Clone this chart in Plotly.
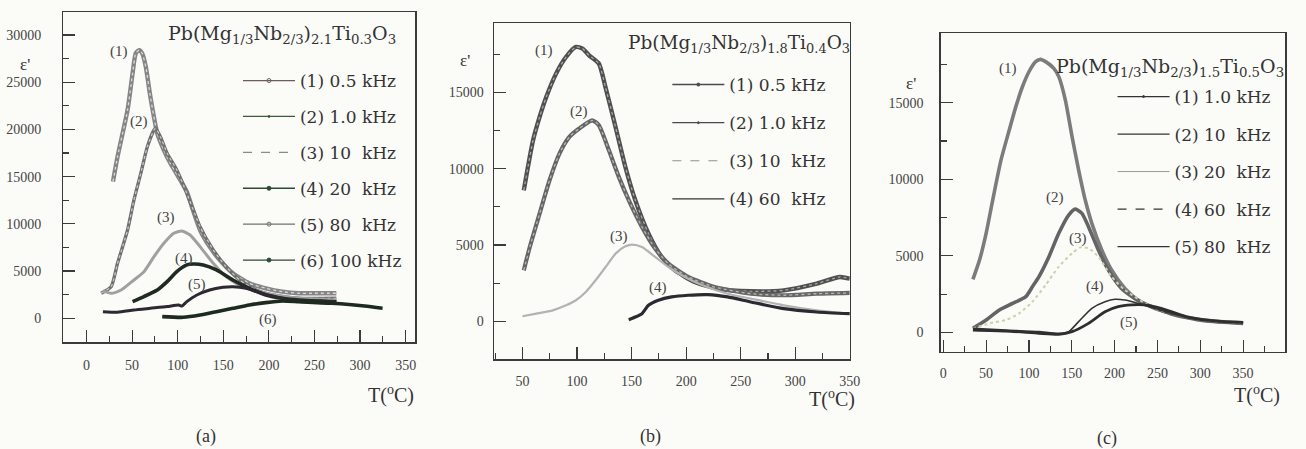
import plotly.graph_objects as go

W, H = 1306, 449
FONT = "Liberation Serif"
LFONT = "DejaVu Serif"
INK = "#3a3a3a"

# ---------------- Panel (a): Pb(Mg1/3Nb2/3)2.1Ti0.3O3 ----------------
a_names = ["(1) 0.5 kHz", "(2) 1.0 kHz", "(3) 10\u00a0 kHz", "(4) 20\u00a0 kHz", "(5) 80\u00a0 kHz", "(6) 100 kHz"]
a1_x = [29, 34, 45, 50.5, 54, 57.7, 61, 65, 70, 77.6, 84.8, 92, 102.8, 110, 115.5, 124.5, 135, 146, 160.5, 178.6, 196.6, 214.7, 232.7, 247, 274]
a1_y = [14470, 17100, 22060, 25940, 28060, 28400, 28060, 26640, 23470, 19590, 17820, 16410, 14650, 13410, 11820, 9350, 7590, 6180, 4760, 3700, 3180, 2820, 2650, 2650, 2650]
a2_x = [16, 27, 34, 45, 52, 59.5, 66.7, 74, 75.8, 81, 88.4, 99, 110, 124.5, 139, 153, 168, 186, 204, 232.7, 274]
a2_y = [2650, 3350, 5820, 9350, 12530, 15350, 18170, 19940, 20110, 19230, 17470, 15700, 13230, 9700, 7230, 5470, 4060, 3000, 2470, 2120, 2120]
a3_x = [18, 27, 38, 52, 63, 74, 84.8, 95.6, 104.6, 113.6, 124.5, 139, 153, 171, 196.6, 233, 274]
a3_y = [2900, 2650, 3000, 4060, 4940, 6530, 7940, 9000, 9250, 8820, 7590, 5820, 4410, 3350, 2650, 2120, 1940]
a4_x = [50.5, 63, 77.6, 88.4, 99, 110, 117, 128, 142.5, 160.5, 178.6, 196.6, 214.7, 232.7, 274]
a4_y = [1760, 2300, 3000, 3880, 4940, 5650, 5750, 5650, 5120, 4060, 3180, 2470, 2120, 1940, 1760]
a5_x = [18, 34, 52, 70, 88.4, 101, 104.6, 110, 121, 135, 149.7, 160.5, 175, 189, 207, 225.5, 250.8, 274]
a5_y = [705, 635, 880, 1060, 1240, 1410, 1300, 1760, 2470, 3000, 3280, 3350, 3180, 2750, 2290, 1940, 1760, 1760]
a6_x = [83, 106, 124.5, 142.5, 160.5, 178.6, 196.6, 214.7, 232.7, 268.8, 305, 324.7]
a6_y = [176, 106, 350, 705, 1060, 1410, 1660, 1835, 1760, 1590, 1300, 1060]

# ---------------- Panel (b): Pb(Mg1/3Nb2/3)1.8Ti0.4O3 ----------------
b_names = ["(1) 0.5 kHz", "(2) 1.0 kHz", "(3) 10\u00a0 kHz", "(4) 60\u00a0 kHz"]
b1_x = [51.2, 55, 59.7, 65.7, 71.8, 80.8, 89.9, 99, 105, 111, 120, 126, 135.3, 144.3, 153.4, 165.5, 177.6, 189.7, 207.9, 229, 259.3, 289.5, 319.7, 340.9, 350]
b1_y = [8590, 10120, 11870, 13400, 14710, 16240, 17330, 17990, 17880, 17440, 16900, 15370, 12740, 10120, 7940, 5750, 4220, 3340, 2580, 2140, 1970, 2030, 2470, 2910, 2800]
b2_x = [51.2, 56.7, 65.7, 74.8, 83.9, 93, 102, 114, 120, 129.2, 138.3, 147.4, 159.5, 171.6, 183.7, 201.8, 226, 259.3, 289.5, 319.7, 350]
b2_y = [3340, 4870, 7060, 9250, 11000, 12090, 12640, 13180, 12850, 11210, 9470, 7940, 6190, 4770, 3780, 2910, 2250, 1810, 1710, 1810, 1860]
b3_x = [50, 62.7, 77.8, 89.9, 99, 108, 117, 126.2, 135.3, 144.3, 150.4, 159.5, 171.6, 183.7, 198.8, 213.9, 238, 259.3, 289.5, 319.7, 350]
b3_y = [330, 500, 720, 1050, 1380, 1920, 2690, 3560, 4440, 4920, 5030, 4870, 4220, 3560, 2910, 2400, 1810, 1490, 1050, 720, 500]
b4_x = [147.4, 153.4, 159.5, 165.5, 174.6, 186.7, 201.8, 220, 238, 259.3, 289.5, 319.7, 350]
b4_y = [110, 280, 500, 1050, 1380, 1600, 1710, 1750, 1600, 1270, 830, 610, 500]

# ---------------- Panel (c): Pb(Mg1/3Nb2/3)1.5Ti0.5O3 ----------------
c_names = ["(1) 1.0 kHz", "(2) 10\u00a0 kHz", "(3) 20\u00a0 kHz", "(4) 60\u00a0 kHz", "(5) 80\u00a0 kHz"]
c1_x = [34.6, 42.3, 50, 57.7, 67.4, 77, 84.7, 92.4, 100, 107.8, 113.6, 119.4, 129, 134.8, 142.5, 150.3, 158, 165.7, 173.4, 185, 196.5, 212, 227.4, 246.7, 266, 285.2, 304.5, 323.8, 350]
c1_y = [3460, 4720, 6470, 8640, 11260, 13210, 14740, 16040, 17020, 17680, 17830, 17680, 17240, 16700, 15170, 12780, 10600, 8640, 7120, 5380, 4070, 2870, 2110, 1570, 1240, 980, 805, 700, 630]
c2_x = [34.6, 50, 65.4, 80.8, 96.3, 104, 111.7, 123.3, 134.8, 146.4, 154.1, 161.8, 169.5, 181, 192.7, 208, 227.4, 266, 304.5, 350]
c2_y = [260, 805, 1460, 1890, 2330, 2980, 3640, 4940, 6470, 7660, 8050, 7770, 6900, 5380, 4070, 2870, 2070, 1200, 760, 590]
c3_x = [34.6, 53.9, 73.1, 88.6, 104, 119.4, 134.8, 150.3, 160, 169.5, 181, 196.5, 212, 246.7, 304.5, 350]
c3_y = [260, 590, 805, 1240, 2000, 3090, 4290, 5160, 5550, 5490, 4940, 3640, 2760, 1570, 805, 630]
c4_x = [34.6, 73.1, 111.7, 134.8, 146.4, 158, 173.4, 188.8, 200.4, 212, 227.4, 246.7, 266, 304.5, 350]
c4_y = [260, 150, 45, -65, 45, 700, 1570, 2000, 2160, 2110, 1890, 1570, 1240, 805, 630]
c5_x = [34.6, 73.1, 111.7, 134.8, 150.3, 169.5, 188.8, 204.2, 219.7, 235, 254.4, 285.2, 323.8, 350]
c5_y = [150, 87, -65, -130, 45, 590, 1350, 1680, 1790, 1790, 1570, 1000, 720, 650]

fig = go.Figure()

def add_curve(x, y, ax, color, width, dash="solid", core=None):
    fig.add_trace(go.Scatter(x=x, y=y, mode="lines", xaxis=ax[0], yaxis=ax[1],
                             line=dict(color=color, width=width, dash=dash, shape="spline", smoothing=0.6),
                             showlegend=False, hoverinfo="skip"))
    if core:
        fig.add_trace(go.Scatter(x=x, y=y, mode="lines", xaxis=ax[0], yaxis=ax[1],
                                 line=dict(color=core, width=1.3, dash="dot", shape="spline", smoothing=0.6),
                                 showlegend=False, hoverinfo="skip"))

def add_key(name, legend, group, color, width, dash, symbol, size):
    fig.add_trace(go.Scatter(x=[None], y=[None], mode="lines+markers" if size > 0 else "lines",
                             name=name, legend=legend, legendgroup=group,
                             line=dict(color=color, width=width, dash=dash),
                             marker=dict(color=color, size=max(size, 1), symbol=symbol, line=dict(width=1, color=color))))

# panel a curves
a_data = [(a1_x, a1_y), (a2_x, a2_y), (a3_x, a3_y), (a4_x, a4_y), (a5_x, a5_y), (a6_x, a6_y)]
a_style = [("#858585", 4.4, "solid", "#d9d9d9"), ("#707070", 3.4, "solid", "#c8c8c8"), ("#a0a0a0", 3.0, "solid", None),
           ("#1f2b22", 3.6, "solid", None), ("#2d2832", 3.0, "solid", None), ("#1c2a1f", 3.6, "solid", None)]
a_key = [("#6e5c5c", 1.3, "solid", "circle-open", 4), ("#3d5a3d", 1.3, "solid", "circle", 2),
         ("#8a8a8a", 1.2, "dash", "circle", 0), ("#2f4a33", 1.3, "solid", "circle", 4),
         ("#707070", 1.3, "solid", "circle-open", 4), ("#2f4a33", 1.3, "solid", "circle", 4)]
for (x, y), st in zip(a_data, a_style):
    add_curve(x, y, ("x", "y"), *st)
for i, (n, k) in enumerate(zip(a_names, a_key)):
    add_key(n, "legend", "a%d" % i, *k)

b_data = [(b1_x, b1_y), (b2_x, b2_y), (b3_x, b3_y), (b4_x, b4_y)]
b_style = [("#505050", 4.4, "solid", "#a8a8a8"), ("#666666", 4.2, "solid", "#b8b8b8"),
           ("#b3b3b3", 2.2, "solid", None), ("#2a2a32", 3.2, "solid", None)]
b_key = [("#4a4a4a", 1.4, "solid", "circle", 3), ("#4a4a4a", 1.3, "solid", "circle", 2),
         ("#909090", 1.2, "dash", "circle", 0), ("#333333", 1.4, "solid", "circle", 0)]
for (x, y), st in zip(b_data, b_style):
    add_curve(x, y, ("x2", "y2"), *st)
for i, (n, k) in enumerate(zip(b_names, b_key)):
    add_key(n, "legend2", "b%d" % i, *k)

c_data = [(c1_x, c1_y), (c2_x, c2_y), (c3_x, c3_y), (c4_x, c4_y), (c5_x, c5_y)]
c_style = [("#7c7c7c", 3.6, "solid", None), ("#646464", 3.6, "solid", None), ("#cfcfae", 2.0, "dot", None),
           ("#333333", 1.6, "solid", None), ("#2e2e2e", 2.8, "solid", None)]
c_key = [("#333333", 1.3, "solid", "circle", 2), ("#333333", 1.3, "solid", "circle", 0),
         ("#9a9a9a", 1.0, "solid", "circle", 0), ("#333333", 1.3, "dash", "circle", 0),
         ("#333333", 1.3, "solid", "circle", 0)]
for (x, y), st in zip(c_data, c_style):
    add_curve(x, y, ("x3", "y3"), *st)
for i, (n, k) in enumerate(zip(c_names, c_key)):
    add_key(n, "legend3", "c%d" % i, *k)

def px_x(p):
    return p / W

def px_y(p):
    return 1 - p / H

def xaxis(dom, rng, anchor, standoff):
    return dict(domain=dom, range=rng, anchor=anchor, showline=True, mirror=True, linecolor=INK, linewidth=1.5,
                ticks="inside", ticklen=12, tickwidth=1.2, tickcolor=INK, dtick=50, tick0=0, tickformat="d",
                showgrid=False, zeroline=False, ticklabelstandoff=standoff,
                tickfont=dict(family=FONT, size=14, color="#444"),
                minor=dict(ticks="inside", ticklen=6, dtick=25, tick0=0, tickcolor=INK, tickwidth=1.1, showgrid=False))

def yaxis(dom, rng, anchor, standoff):
    return dict(domain=dom, range=rng, anchor=anchor, showline=True, mirror=True, linecolor=INK, linewidth=1.5,
                ticks="inside", ticklen=12, tickwidth=1.2, tickcolor=INK, dtick=5000, tick0=0, tickformat="d",
                showgrid=False, zeroline=False, ticklabelstandoff=standoff,
                tickfont=dict(family=FONT, size=14, color="#444"),
                minor=dict(ticks="inside", ticklen=6, dtick=2500, tick0=0, tickcolor=INK, tickwidth=1.1, showgrid=False))

def legend(x, y, gap):
    return dict(x=x, y=y, xanchor="left", yanchor="top", bgcolor="rgba(0,0,0,0)", borderwidth=0,
                font=dict(family=LFONT, size=17, color="#333"), itemwidth=52, tracegroupgap=gap,
                traceorder="grouped", itemclick=False, itemdoubleclick=False)

fig.update_layout(
    width=W, height=H, margin=dict(l=0, r=0, t=0, b=0),
    paper_bgcolor="#fbfbf8", plot_bgcolor="rgba(0,0,0,0)",
    xaxis=xaxis([px_x(63), px_x(418)], [-25.3, 360.8], "y", 9),
    yaxis=yaxis([px_y(342.3), px_y(12.3)], [-2541, 32400], "x", 18),
    xaxis2=xaxis([px_x(497.3), px_x(856)], [24, 350], "y2", 8),
    yaxis2=yaxis([px_y(359.3), px_y(23.3)], [-2490, 19540], "x2", 6),
    xaxis3=xaxis([px_x(947.7), px_x(1295)], [-3, 399], "y3", 8),
    yaxis3=yaxis([px_y(351.7), px_y(33.3)], [-1263, 19530], "x3", 13),
    legend=legend(px_x(239), px_y(63), 10.8),
    legend2=legend(px_x(672), px_y(67), 13),
    legend3=legend(px_x(1121), px_y(79), 12.4),
    showlegend=True,
)

ann = []
def text(x, y, s, size, xref="paper", yref="paper", xanchor="center", color="#333", family=FONT):
    ann.append(dict(x=x, y=y, xref=xref, yref=yref, text=s, showarrow=False, xanchor=xanchor, yanchor="middle",
                    font=dict(family=family, size=size, color=color)))

# titles
text(px_x(166), px_y(35), "Pb(Mg<sub>1/3</sub>Nb<sub>2/3</sub>)<sub>2.1</sub>Ti<sub>0.3</sub>O<sub>3</sub>", 19, xanchor="left", family=LFONT)
text(px_x(630), px_y(44), "Pb(Mg<sub>1/3</sub>Nb<sub>2/3</sub>)<sub>1.8</sub>Ti<sub>0.4</sub>O<sub>3</sub>", 18.5, xanchor="left", family=LFONT)
text(px_x(1062), px_y(67), "Pb(Mg<sub>1/3</sub>Nb<sub>2/3</sub>)<sub>1.5</sub>Ti<sub>0.5</sub>O<sub>3</sub>", 19, xanchor="left", family=LFONT)
# epsilon labels
text(px_x(24), px_y(64), "ε'", 17)
text(px_x(468), px_y(60), "ε'", 17)
text(px_x(918), px_y(83), "ε'", 17)
# T labels
text(px_x(393), px_y(394), "T(<sup>o</sup>C)", 20)
text(px_x(838), px_y(398), "T(<sup>o</sup>C)", 20)
text(px_x(1267), px_y(394), "T(<sup>o</sup>C)", 20)
# captions
text(px_x(207), px_y(436), "(a)", 18)
text(px_x(655), px_y(436), "(b)", 18)
text(px_x(1115), px_y(438), "(c)", 18)
# out-of-range top tick labels
text(px_x(489), 20000, "20000", 14, yref="y2", xanchor="right", color="#444")
text(px_x(933), 20000, "20000", 14, yref="y3", xanchor="right", color="#444")

# curve labels (data coordinates)
a_lab = [(36, 28230), (57.7, 20820), (87.3, 10690), (106.4, 6350), (121.6, 3530), (199.5, -106)]
b_lab = [(69.4, 17770), (102, 13730), (138.3, 5570), (174, 2250)]
c_lab = [(75.8, 17240), (130.2, 8800), (157.2, 6140), (177.3, 2980), (216.6, 630)]
for i, (x, y) in enumerate(a_lab):
    text(x, y, "(%d)" % (i + 1), 15, xref="x", yref="y", color="#444")
for i, (x, y) in enumerate(b_lab):
    text(x, y, "(%d)" % (i + 1), 15, xref="x2", yref="y2", color="#444")
for i, (x, y) in enumerate(c_lab):
    text(x, y, "(%d)" % (i + 1), 15, xref="x3", yref="y3", color="#444")

fig.update_layout(annotations=ann)
fig.write_html("out.html", config={"displayModeBar": False, "staticPlot": True},
               post_script="document.body.style.margin='0px';document.body.style.overflow='hidden';")
